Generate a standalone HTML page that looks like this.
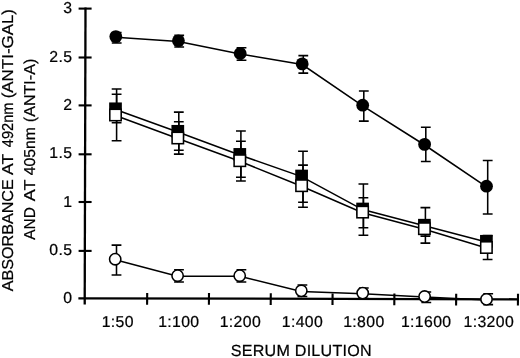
<!DOCTYPE html>
<html><head><meta charset="utf-8"><title>Serum dilution</title>
<style>html,body{margin:0;padding:0;background:#fff}body{width:520px;height:358px;overflow:hidden}</style>
</head><body>
<svg width="520" height="358" viewBox="0 0 520 358" style="display:block;filter:blur(0.35px)">
<rect width="520" height="358" fill="#fff"/>
<g stroke="#000" stroke-width="2.3" fill="none">
<line x1="85.5" y1="7.4" x2="84.7" y2="304.5"/>
<line x1="78.4" y1="298.3" x2="519.0" y2="299.3"/>
</g>
<g stroke="#000" stroke-width="2.1" fill="none">
<line x1="78.6" y1="8.6" x2="91.6" y2="8.6"/>
<line x1="78.6" y1="57.5" x2="91.6" y2="57.5"/>
<line x1="78.6" y1="105.4" x2="91.6" y2="105.4"/>
<line x1="78.6" y1="154.3" x2="91.6" y2="154.3"/>
<line x1="78.6" y1="202.0" x2="91.6" y2="202.0"/>
<line x1="78.6" y1="250.9" x2="91.6" y2="250.9"/>
<line x1="147.2" y1="293.0" x2="147.1" y2="304.7"/>
<line x1="209.0" y1="293.1" x2="208.9" y2="304.8"/>
<line x1="270.8" y1="293.2" x2="270.7" y2="304.9"/>
<line x1="332.6" y1="293.4" x2="332.5" y2="305.1"/>
<line x1="394.4" y1="293.5" x2="394.3" y2="305.2"/>
<line x1="456.2" y1="293.7" x2="456.1" y2="305.4"/>
<line x1="518.0" y1="293.8" x2="517.9" y2="305.5"/>
</g>
<polyline points="115.8,37.2 178.4,41.4 240.2,54.1 302.2,64.5 362.7,105.8 424.6,145.0 486.5,186.8" fill="none" stroke="#000" stroke-width="1.55"/>
<polyline points="115.5,109.4 177.8,131.9 239.8,155.0 301.6,176.6 362.6,209.6 424.4,225.8 486.4,241.9" fill="none" stroke="#000" stroke-width="1.55"/>
<polyline points="115.5,115.6 177.8,138.6 239.8,161.3 301.6,186.3 362.6,212.7 424.4,229.3 486.4,248.1" fill="none" stroke="#000" stroke-width="1.55"/>
<polyline points="115.2,259.8 177.6,276.3 239.7,276.3 301.3,291.4 362.7,293.7 424.6,297.1 486.5,299.9" fill="none" stroke="#000" stroke-width="1.55"/>
<path d="M116.6 94.2V122.7M111.7 94.2h9.8M111.7 122.7h9.8" fill="none" stroke="#000" stroke-width="1.55"/>
<path d="M178.8 112.1V150.3M173.9 112.1h9.8M173.9 150.3h9.8" fill="none" stroke="#000" stroke-width="1.55"/>
<path d="M240.9 130.9V177.3M236.0 130.9h9.8M236.0 177.3h9.8" fill="none" stroke="#000" stroke-width="1.55"/>
<path d="M303.0 151.2V202.3M298.1 151.2h9.8M298.1 202.3h9.8" fill="none" stroke="#000" stroke-width="1.55"/>
<path d="M363.4 183.9V235.2M358.5 183.9h9.8M358.5 235.2h9.8" fill="none" stroke="#000" stroke-width="1.55"/>
<path d="M425.4 207.6V243.1M420.5 207.6h9.8M420.5 243.1h9.8" fill="none" stroke="#000" stroke-width="1.55"/>
<path d="M116.6 88.9V140.7M111.7 88.9h9.8M111.7 140.7h9.8" fill="none" stroke="#000" stroke-width="1.55"/>
<path d="M178.8 121.8V154.1M173.9 121.8h9.8M173.9 154.1h9.8" fill="none" stroke="#000" stroke-width="1.55"/>
<path d="M240.9 141.3V181.0M236.0 141.3h9.8M236.0 181.0h9.8" fill="none" stroke="#000" stroke-width="1.55"/>
<path d="M303.0 165.1V207.2M298.1 165.1h9.8M298.1 207.2h9.8" fill="none" stroke="#000" stroke-width="1.55"/>
<path d="M363.4 197.7V227.7M358.5 197.7h9.8M358.5 227.7h9.8" fill="none" stroke="#000" stroke-width="1.55"/>
<path d="M425.4 221.3V236.1M420.5 221.3h9.8M420.5 236.1h9.8" fill="none" stroke="#000" stroke-width="1.55"/>
<path d="M487.6 235.6V259.4M482.7 235.6h9.8M482.7 259.4h9.8" fill="none" stroke="#000" stroke-width="1.55"/>
<path d="M116.7 32.5V43.0M111.8 32.5h9.8M111.8 43.0h9.8" fill="none" stroke="#000" stroke-width="1.55"/>
<path d="M179.2 35.2V47.0M174.3 35.2h9.8M174.3 47.0h9.8" fill="none" stroke="#000" stroke-width="1.55"/>
<path d="M241.5 47.7V60.2M236.6 47.7h9.8M236.6 60.2h9.8" fill="none" stroke="#000" stroke-width="1.55"/>
<path d="M303.3 55.6V73.1M298.4 55.6h9.8M298.4 73.1h9.8" fill="none" stroke="#000" stroke-width="1.55"/>
<path d="M363.8 90.9V121.1M358.9 90.9h9.8M358.9 121.1h9.8" fill="none" stroke="#000" stroke-width="1.55"/>
<path d="M425.8 127.3V161.4M420.9 127.3h9.8M420.9 161.4h9.8" fill="none" stroke="#000" stroke-width="1.55"/>
<path d="M487.7 160.4V213.9M482.8 160.4h9.8M482.8 213.9h9.8" fill="none" stroke="#000" stroke-width="1.55"/>
<path d="M116.5 245.1V274.9M111.6 245.1h9.8M111.6 274.9h9.8" fill="none" stroke="#000" stroke-width="1.55"/>
<path d="M179.0 269.7V281.9M174.1 269.7h9.8M174.1 281.9h9.8" fill="none" stroke="#000" stroke-width="1.55"/>
<path d="M241.4 269.7V281.9M236.5 269.7h9.8M236.5 281.9h9.8" fill="none" stroke="#000" stroke-width="1.55"/>
<path d="M302.4 285.0V296.5M297.5 285.0h9.8M297.5 296.5h9.8" fill="none" stroke="#000" stroke-width="1.55"/>
<path d="M363.8 288.0V298.6M358.9 288.0h9.8M358.9 298.6h9.8" fill="none" stroke="#000" stroke-width="1.55"/>
<path d="M426.3 291.9V302.5M421.4 291.9h9.8M421.4 302.5h9.8" fill="none" stroke="#000" stroke-width="1.55"/>
<path d="M488.2 293.8V304.6M483.3 293.8h9.8M483.3 304.6h9.8" fill="none" stroke="#000" stroke-width="1.55"/>
<rect x="109.15" y="102.45" width="12.7" height="12.7" fill="#000"/>
<rect x="171.45" y="124.95" width="12.7" height="12.7" fill="#000"/>
<rect x="233.45" y="148.05" width="12.7" height="12.7" fill="#000"/>
<rect x="295.25" y="169.65" width="12.7" height="12.7" fill="#000"/>
<rect x="356.25" y="202.65" width="12.7" height="12.7" fill="#000"/>
<rect x="418.05" y="218.85" width="12.7" height="12.7" fill="#000"/>
<rect x="480.05" y="234.95" width="12.7" height="12.7" fill="#000"/>
<rect x="109.80" y="109.30" width="11.4" height="11.4" fill="#fff" stroke="#000" stroke-width="1.55"/>
<rect x="172.10" y="132.30" width="11.4" height="11.4" fill="#fff" stroke="#000" stroke-width="1.55"/>
<rect x="234.10" y="155.00" width="11.4" height="11.4" fill="#fff" stroke="#000" stroke-width="1.55"/>
<rect x="295.90" y="180.00" width="11.4" height="11.4" fill="#fff" stroke="#000" stroke-width="1.55"/>
<rect x="356.90" y="206.40" width="11.4" height="11.4" fill="#fff" stroke="#000" stroke-width="1.55"/>
<rect x="418.70" y="223.00" width="11.4" height="11.4" fill="#fff" stroke="#000" stroke-width="1.55"/>
<rect x="480.70" y="241.80" width="11.4" height="11.4" fill="#fff" stroke="#000" stroke-width="1.55"/>
<circle cx="115.8" cy="36.6" r="6.4" fill="#000"/>
<circle cx="178.4" cy="40.8" r="6.4" fill="#000"/>
<circle cx="240.2" cy="53.5" r="6.4" fill="#000"/>
<circle cx="302.2" cy="63.9" r="6.4" fill="#000"/>
<circle cx="362.7" cy="105.2" r="6.4" fill="#000"/>
<circle cx="424.6" cy="144.4" r="6.4" fill="#000"/>
<circle cx="486.5" cy="186.2" r="6.4" fill="#000"/>
<circle cx="115.2" cy="259.2" r="5.65" fill="#fff" stroke="#000" stroke-width="1.55"/>
<circle cx="177.6" cy="275.7" r="5.65" fill="#fff" stroke="#000" stroke-width="1.55"/>
<circle cx="239.7" cy="275.7" r="5.65" fill="#fff" stroke="#000" stroke-width="1.55"/>
<circle cx="301.3" cy="290.8" r="5.65" fill="#fff" stroke="#000" stroke-width="1.55"/>
<circle cx="362.7" cy="293.1" r="5.65" fill="#fff" stroke="#000" stroke-width="1.55"/>
<circle cx="424.6" cy="296.5" r="5.65" fill="#fff" stroke="#000" stroke-width="1.55"/>
<circle cx="486.5" cy="299.3" r="5.65" fill="#fff" stroke="#000" stroke-width="1.55"/>
<g font-family='"Liberation Sans", Arial, Helvetica, sans-serif' font-size="15.8" letter-spacing="0.36" text-rendering="geometricPrecision" fill="#000" stroke="#000" stroke-width="0.22">
<text x="72.3" y="12.5" text-anchor="end">3</text>
<text x="72.3" y="61.9" text-anchor="end">2.5</text>
<text x="72.3" y="109.9" text-anchor="end">2</text>
<text x="72.3" y="158.4" text-anchor="end">1.5</text>
<text x="72.3" y="206.9" text-anchor="end">1</text>
<text x="72.3" y="255.3" text-anchor="end">0.5</text>
<text x="72.3" y="302.6" text-anchor="end">0</text>
<text x="117.8" y="327" text-anchor="middle">1:50</text>
<text x="178.8" y="327" text-anchor="middle">1:100</text>
<text x="240.4" y="327" text-anchor="middle">1:200</text>
<text x="302.5" y="327" text-anchor="middle">1:400</text>
<text x="363.9" y="327" text-anchor="middle">1:800</text>
<text x="426.2" y="327" text-anchor="middle">1:1600</text>
<text x="488.8" y="327" text-anchor="middle">1:3200</text>
<text x="301.3" y="356.2" text-anchor="middle" font-size="16.1" letter-spacing="0.25">SERUM DILUTION</text>
<g transform="translate(12.9 0) rotate(-90)" font-size="15.8" letter-spacing="0">
<text x="-291.3" y="0" textLength="112.0" lengthAdjust="spacingAndGlyphs">ABSORBANCE</text>
<text x="-175.0" y="0" textLength="21.1" lengthAdjust="spacingAndGlyphs">AT</text>
<text x="-147.2" y="0" textLength="44.6" lengthAdjust="spacingAndGlyphs">492nm</text>
<text x="-98.3" y="0" textLength="89.3" lengthAdjust="spacingAndGlyphs">(ANTI-GAL)</text>
</g>
<g transform="translate(34.5 0) rotate(-90)" font-size="15.8" letter-spacing="0">
<text x="-239.7" y="0" textLength="32.5" lengthAdjust="spacingAndGlyphs">AND</text>
<text x="-201.3" y="0" textLength="21.7" lengthAdjust="spacingAndGlyphs">AT</text>
<text x="-175.2" y="0" textLength="48.2" lengthAdjust="spacingAndGlyphs">405nm</text>
<text x="-122.2" y="0" textLength="63.5" lengthAdjust="spacingAndGlyphs">(ANTI-A)</text>
</g>
</g>
</svg>
</body></html>
